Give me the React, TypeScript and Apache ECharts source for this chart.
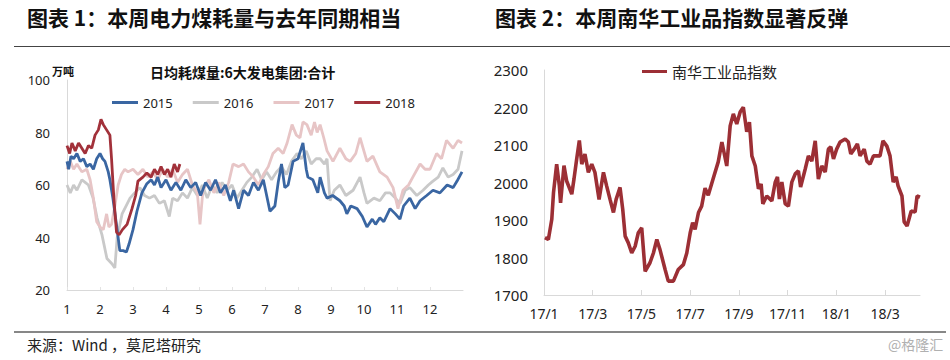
import React, { useEffect, useRef } from "react";
import * as echarts from "echarts";

// ---- Left chart: 日均耗煤量 (x = month of year, y = 万吨) ----
const yearNames = ["2015", "2016", "2017", "2018"];
const coal2015: [number, number][] = [
  [1.0, 69], [1.05, 66], [1.12, 71], [1.2, 70], [1.3, 72], [1.4, 69], [1.5, 70], [1.6, 67], [1.7, 68], [1.8, 66],
  [1.9, 70], [2.0, 72], [2.08, 70], [2.15, 69], [2.25, 65], [2.3, 62], [2.39, 55], [2.52, 43], [2.6, 35], [2.7, 35],
  [2.8, 34.5], [2.88, 37.5], [3.0, 43], [3.12, 50], [3.27, 57], [3.42, 60.5], [3.55, 62], [3.65, 60], [3.75, 63], [3.85, 59],
  [4.0, 62], [4.15, 58], [4.3, 61], [4.45, 58], [4.6, 62], [4.75, 59], [4.9, 61], [5.05, 56], [5.2, 61], [5.35, 58],
  [5.5, 62], [5.65, 57], [5.8, 60], [5.95, 54], [6.05, 58], [6.2, 51], [6.35, 58], [6.5, 56], [6.65, 61], [6.8, 58],
  [6.95, 62], [7.05, 56], [7.15, 50], [7.3, 52], [7.4, 61], [7.5, 68], [7.6, 59], [7.7, 60], [7.85, 69], [8.0, 70],
  [8.15, 76], [8.25, 66], [8.3, 63], [8.45, 62], [8.6, 57], [8.67, 63], [8.8, 57], [8.88, 55], [9.05, 56], [9.27, 54],
  [9.4, 52], [9.48, 49], [9.6, 52], [9.79, 51], [9.95, 48], [10.09, 44], [10.25, 47], [10.35, 45], [10.48, 47.5], [10.6, 46],
  [10.79, 51], [10.95, 49], [11.09, 47], [11.2, 52], [11.39, 55], [11.55, 51], [11.7, 54], [11.9, 56], [12.09, 58], [12.3, 57],
  [12.52, 60], [12.7, 59], [12.82, 61.5], [12.97, 65],
];
const coal2016: [number, number][] = [
  [1.0, 60], [1.1, 57], [1.2, 60], [1.3, 58], [1.45, 62], [1.55, 61], [1.65, 60], [1.79, 55], [1.91, 47.5], [2.06, 41],
  [2.21, 32], [2.36, 30], [2.45, 28.4], [2.52, 40], [2.67, 49], [2.91, 55], [3.05, 57], [3.21, 59], [3.35, 56], [3.5, 55],
  [3.65, 56], [3.8, 53], [3.95, 54], [4.1, 48], [4.2, 55], [4.35, 54], [4.5, 57], [4.65, 55], [4.8, 59], [4.95, 56],
  [5.1, 60], [5.25, 55], [5.4, 60], [5.55, 57], [5.7, 61], [5.85, 58], [6.0, 60], [6.15, 55], [6.3, 58], [6.45, 61],
  [6.6, 63], [6.76, 66], [6.9, 62], [7.05, 65], [7.2, 62], [7.35, 65], [7.5, 67], [7.65, 64], [7.8, 69], [7.97, 72],
  [8.1, 70], [8.25, 73], [8.4, 68], [8.55, 70], [8.67, 70], [8.8, 68], [8.88, 70], [8.97, 54], [9.1, 58], [9.27, 60],
  [9.45, 56], [9.67, 58], [9.88, 63], [10.0, 57], [10.09, 53], [10.3, 55], [10.48, 54], [10.65, 57], [10.79, 57], [10.95, 55],
  [11.09, 53], [11.25, 58], [11.39, 59], [11.6, 56], [11.79, 58], [11.95, 60], [12.09, 61.5], [12.25, 63], [12.39, 66.5], [12.55, 63],
  [12.7, 64], [12.85, 66], [12.97, 73],
];
const coal2017: [number, number][] = [
  [1.0, 66], [1.1, 69], [1.2, 66], [1.3, 68], [1.45, 65], [1.6, 66], [1.7, 62], [1.8, 55], [1.9, 46], [2.0, 44],
  [2.1, 43], [2.2, 49], [2.27, 44], [2.35, 45], [2.45, 52], [2.55, 60], [2.65, 64], [2.75, 66], [2.85, 65], [3.0, 66],
  [3.15, 64], [3.3, 66], [3.45, 63], [3.6, 65], [3.75, 62], [3.9, 66], [4.05, 63], [4.2, 66], [4.35, 61], [4.5, 64],
  [4.65, 66], [4.8, 60], [4.95, 57], [5.03, 45], [5.12, 58], [5.3, 62], [5.45, 57], [5.6, 61], [5.75, 56], [5.9, 61],
  [6.03, 68], [6.2, 67], [6.35, 68], [6.5, 65], [6.65, 63], [6.8, 60], [6.95, 64], [7.1, 67], [7.24, 72], [7.4, 74],
  [7.55, 72], [7.67, 76], [7.82, 83], [7.95, 79], [8.06, 78], [8.15, 84], [8.27, 83], [8.4, 79], [8.5, 84], [8.58, 80],
  [8.67, 83], [8.78, 78], [8.88, 73], [9.06, 69], [9.27, 74], [9.45, 70], [9.58, 69], [9.75, 72], [9.88, 78], [10.09, 69],
  [10.27, 71], [10.48, 65], [10.7, 63], [10.88, 59], [11.03, 51], [11.18, 58], [11.35, 60], [11.48, 63], [11.7, 68], [11.85, 66],
  [12.0, 66], [12.2, 72], [12.35, 70], [12.5, 77], [12.7, 74], [12.85, 77], [12.97, 76],
];
const coal2018: [number, number][] = [
  [1.0, 75], [1.08, 72], [1.15, 76], [1.25, 73], [1.35, 76], [1.45, 74], [1.55, 72], [1.65, 75], [1.75, 74], [1.85, 79],
  [1.95, 81], [2.03, 85], [2.1, 83], [2.2, 81], [2.3, 79], [2.35, 70], [2.42, 55], [2.5, 42], [2.58, 41], [2.68, 43],
  [2.82, 45], [2.97, 51], [3.08, 56], [3.15, 61.5], [3.3, 63], [3.42, 64.6], [3.55, 63], [3.65, 66], [3.75, 64], [3.85, 67],
  [3.95, 64], [4.05, 66], [4.15, 63], [4.25, 68], [4.35, 65], [4.42, 68],
];
const monthTicks = [1, 2, 3, 4, 5, 6, 7, 8, 9, 10, 11, 12];

// ---- Right chart: 南华工业品指数 (x = months since 2017-01) ----
const nanhuaName = "南华工业品指数";
const nanhua: [number, number][] = [
  [0.04, 1853], [0.18, 1848], [0.32, 1902], [0.39, 1973], [0.52, 2049], [0.63, 1991], [0.68, 1946], [0.82, 2045], [0.93, 2004], [1.14, 1969],
  [1.23, 2009], [1.34, 2062], [1.45, 2112], [1.55, 2049], [1.68, 2076], [1.82, 2027], [1.96, 2049], [2.09, 2027], [2.26, 1955], [2.44, 2027],
  [2.57, 1991], [2.71, 1955], [2.85, 1920], [2.96, 1955], [3.12, 1987], [3.23, 1929], [3.33, 1857], [3.46, 1839], [3.6, 1812], [3.74, 1830],
  [3.87, 1866], [4.01, 1879], [4.15, 1763], [4.35, 1786], [4.49, 1812], [4.63, 1848], [4.76, 1821], [4.97, 1768], [5.1, 1737], [5.31, 1737],
  [5.51, 1768], [5.72, 1781], [5.86, 1812], [6.0, 1866], [6.1, 1893], [6.2, 1875], [6.34, 1920], [6.47, 1937], [6.61, 1985], [6.74, 1966],
  [6.95, 2012], [7.15, 2055], [7.3, 2108], [7.5, 2044], [7.64, 2151], [7.77, 2183], [7.91, 2156], [8.05, 2188], [8.18, 2201], [8.32, 2135],
  [8.43, 2161], [8.53, 2071], [8.67, 2044], [8.8, 1983], [8.91, 1996], [8.98, 1943], [9.14, 1964], [9.35, 1951], [9.49, 2001], [9.58, 2015],
  [9.66, 1956], [9.76, 2001], [9.9, 1943], [10.03, 1937], [10.17, 2001], [10.31, 2023], [10.44, 2031], [10.53, 1988], [10.72, 2036], [10.85, 2071],
  [10.99, 2057], [11.13, 2111], [11.26, 2009], [11.4, 2044], [11.54, 2028], [11.67, 2089], [11.77, 2095], [11.88, 2063], [12.01, 2089], [12.15, 2108],
  [12.36, 2116], [12.49, 2108], [12.59, 2076], [12.73, 2089], [12.86, 2103], [12.97, 2071], [13.14, 2089], [13.25, 2057], [13.38, 2049], [13.52, 2071],
  [13.79, 2071], [13.91, 2111], [14.07, 2097], [14.2, 2071], [14.33, 2001], [14.45, 2015], [14.53, 1991], [14.69, 1964], [14.78, 1895], [14.9, 1884],
  [15.07, 1924], [15.23, 1921], [15.31, 1964], [15.43, 1961],
];
const rightTicks = [0, 2, 4, 6, 8, 10, 12, 14];

const FONT = '"Noto Sans", "Noto Sans CJK SC", sans-serif';
const CJK = '"Noto Sans CJK SC", sans-serif';

export default function App() {
  const ref = useRef<HTMLDivElement>(null);
  useEffect(() => {
    if (!ref.current) return;
    const chart = echarts.init(ref.current, undefined, { renderer: "svg" });
    const colors = ["#3a66a2", "#c9c9c9", "#e7c5c6", "#a2313a"];
    const coalData = [coal2015, coal2016, coal2017, coal2018];
    const zs = [4, 2, 3, 5];
    chart.setOption({
      animation: false,
      backgroundColor: "#ffffff",
      textStyle: { fontFamily: FONT },
      legend: [
        {
          data: yearNames,
          left: 107,
          top: 91,
          itemWidth: 26,
          itemHeight: 3,
          itemGap: 20,
          icon: "rect",
          textStyle: { fontSize: 13, color: "#222", fontFamily: FONT },
        },
        {
          data: [nanhuaName],
          left: 637,
          top: 59,
          itemWidth: 25,
          itemHeight: 3,
          icon: "rect",
          textStyle: { fontSize: 15, color: "#222", fontFamily: CJK },
        },
      ],
      grid: [
        { left: 67, top: 80, width: 396, height: 210 },
        { left: 544, top: 70, width: 376, height: 225 },
      ],
      xAxis: [
        {
          type: "value",
          gridIndex: 0,
          min: 1,
          max: 13,
          interval: 1,
          axisLine: { lineStyle: { color: "#d9d9d9", width: 1 } },
          axisTick: { show: true, inside: true, length: 3, customValues: monthTicks, lineStyle: { color: "#e3e3e3" } },
          axisLabel: { customValues: monthTicks, color: "#222", fontSize: 13, margin: 12 },
          splitLine: { show: false },
        },
        {
          type: "value",
          gridIndex: 1,
          min: 0,
          max: 15.43,
          axisLine: { lineStyle: { color: "#d9d9d9", width: 1 } },
          axisTick: { show: true, inside: true, length: 5, customValues: rightTicks, lineStyle: { color: "#d9d9d9" } },
          axisLabel: {
            customValues: rightTicks,
            color: "#222",
            fontSize: 14,
            margin: 11,
            formatter: (v: number) => `${17 + Math.floor(v / 12)}/${(v % 12) + 1}`,
          },
          splitLine: { show: false },
        },
      ],
      yAxis: [
        {
          type: "value",
          gridIndex: 0,
          min: 20,
          max: 100,
          interval: 20,
          axisLine: { show: true, lineStyle: { color: "#d9d9d9", width: 1 } },
          axisTick: { show: false },
          axisLabel: { color: "#222", fontSize: 13, margin: 17 },
          splitLine: { show: false },
        },
        {
          type: "value",
          gridIndex: 1,
          min: 1700,
          max: 2300,
          interval: 100,
          axisLine: { show: true, lineStyle: { color: "#d9d9d9", width: 1 } },
          axisTick: { show: false },
          axisLabel: { color: "#222", fontSize: 15, margin: 16, formatter: (v: number) => String(v) },
          splitLine: { show: false },
        },
      ],
      series: [
        ...yearNames.map((name, i) => ({
          name,
          type: "line",
          xAxisIndex: 0,
          yAxisIndex: 0,
          data: coalData[i],
          showSymbol: false,
          symbol: "none",
          z: zs[i],
          itemStyle: { color: colors[i] },
          lineStyle: { color: colors[i], width: 2.8 },
        })),
        {
          name: nanhuaName,
          type: "line",
          xAxisIndex: 1,
          yAxisIndex: 1,
          data: nanhua,
          showSymbol: false,
          symbol: "none",
          itemStyle: { color: "#9c2f35" },
          lineStyle: { color: "#9c2f35", width: 3.6 },
        },
      ],
      graphic: [
        {
          type: "text",
          left: 27,
          top: 6,
          style: { text: "图表 1：本周电力煤耗量与去年同期相当", fontSize: 21, fontWeight: "bold", fill: "#111", fontFamily: CJK },
        },
        {
          type: "text",
          left: 495,
          top: 6,
          style: { text: "图表 2：本周南华工业品指数显著反弹", fontSize: 21, fontWeight: "bold", fill: "#111", fontFamily: CJK },
        },
        { type: "line", shape: { x1: 14, y1: 46.5, x2: 950, y2: 46.5 }, style: { stroke: "#444", lineWidth: 1.2 } },
        { type: "line", shape: { x1: 14, y1: 332, x2: 946, y2: 332 }, style: { stroke: "#111", lineWidth: 1.2 } },
        {
          type: "text",
          left: 150,
          top: 65,
          style: { text: "日均耗煤量:6大发电集团:合计", fontSize: 14, fontWeight: "bold", fill: "#111", fontFamily: CJK },
        },
        {
          type: "text",
          left: 52,
          top: 65,
          style: { text: "万吨", fontSize: 11, fontWeight: "bold", fill: "#111", fontFamily: CJK },
        },
        {
          type: "text",
          left: 27,
          top: 337,
          style: { text: "来源：Wind ，莫尼塔研究", fontSize: 15, fill: "#222", fontFamily: CJK },
        },
        {
          type: "text",
          left: 888,
          top: 337,
          style: { text: "@格隆汇", fontSize: 14, fill: "#b0b0b0", fontFamily: CJK },
        },
      ],
    });
    return () => chart.dispose();
  }, []);
  return <div ref={ref} style={{ position: "absolute", left: 0, top: 0, width: 950, height: 360 }} />;
}
